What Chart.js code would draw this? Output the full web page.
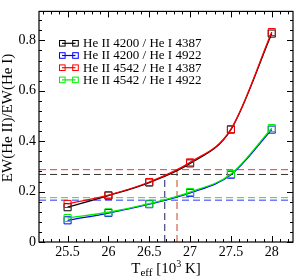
<!DOCTYPE html>
<html>
<head>
<meta charset="utf-8">
<script src="https://cdn.jsdelivr.net/npm/chart.js@4"></script>
<style>
  html, body { margin: 0; padding: 0; background: #fff; }
  canvas { display: block; }
</style>
</head>
<body>
<canvas id="chart" width="299" height="279"></canvas>
<script>
const temps = [25.5, 26, 26.5, 27, 27.5, 28];
const ratio4200_4387 = [0.138, 0.184, 0.236, 0.312, 0.446, 0.827];
const ratio4200_4922 = [0.086, 0.115, 0.150, 0.195, 0.267, 0.446];
const ratio4542_4387 = [0.151, 0.186, 0.238, 0.316, 0.448, 0.833];
const ratio4542_4922 = [0.095, 0.118, 0.152, 0.198, 0.270, 0.452];

const seriesLabels = ['He II 4200 / He I 4387', 'He II 4200 / He I 4922', 'He II 4542 / He I 4387', 'He II 4542 / He I 4922'];
const seriesColors = ['#000000', '#0000ff', '#ff0000', '#00ee00'];

// observed ratios (horizontal dashed) and derived temperatures (vertical dashed)
const observedRatios = [0.268, 0.166, 0.287, 0.176];
const dashColors = ['#333333', '#3333ff', '#ff3333', '#33dd33'];
const derivedTemps = [26.69, 26.84];
const derivedRatios = [0.268, 0.287];
const derivedColors = ['#1b1f5e', '#c8441e'];

const xTicks = [25.5, 26, 26.5, 27, 27.5, 28];
const yTicks = [0, 0.2, 0.4, 0.6, 0.8];
const xMin = 25.15, xMax = 28.26;
const yMin = 0, yMax = 0.915;

const serif = "'Liberation Serif', 'Times New Roman', serif";

const seriesData = [ratio4200_4387, ratio4200_4922, ratio4542_4387, ratio4542_4922];
const drawOrder = [4, 3, 2, 1];

const datasets = [];
seriesData.forEach((vals, i) => {
    datasets.push({
        label: seriesLabels[i],
        data: temps.map((t, k) => ({x: t, y: vals[k]})),
        borderColor: seriesColors[i],
        borderWidth: 1.3,
        pointStyle: 'rect',
        pointRadius: 5,
        pointBorderWidth: 1,
        pointBorderColor: seriesColors[i],
        pointBackgroundColor: 'rgba(0,0,0,0)',
        cubicInterpolationMode: 'monotone',
        order: drawOrder[i],
    });
});
observedRatios.forEach((r, i) => {
    datasets.push({
        data: [{x: xMin, y: r}, {x: xMax, y: r}],
        borderColor: dashColors[i],
        borderWidth: 1,
        borderDash: [7, 4],
        pointRadius: 0,
        order: 10,
    });
});
derivedTemps.forEach((t, i) => {
    datasets.push({
        data: [{x: t, y: 0}, {x: t, y: derivedRatios[i]}],
        borderColor: derivedColors[i],
        borderWidth: 1,
        borderDash: [7, 4],
        pointRadius: 0,
        order: 10,
    });
});

// frame with inward major/minor ticks on all four sides
const framePlugin = {
    id: 'frame',
    afterDraw(chart) {
        const {ctx, chartArea: a, scales: {x, y}} = chart;
        ctx.save();
        ctx.strokeStyle = '#000';
        ctx.lineWidth = 1.2;
        ctx.strokeRect(a.left, a.top, a.right - a.left, a.bottom - a.top);
        ctx.lineWidth = 1;
        ctx.beginPath();
        for (let i = 0; ; i++) {
            const v = 25.2 + i * 0.1;
            if (v > xMax) break;
            const px = Math.round(x.getPixelForValue(v)) + 0.5;
            const major = Math.abs(v * 2 - Math.round(v * 2)) < 1e-6;
            const len = major ? 6 : 3;
            ctx.moveTo(px, a.bottom); ctx.lineTo(px, a.bottom - len);
            ctx.moveTo(px, a.top); ctx.lineTo(px, a.top + len);
        }
        for (let i = 0; ; i++) {
            const v = i * 0.04;
            if (v > yMax) break;
            const py = Math.round(y.getPixelForValue(v)) + 0.5;
            const major = i % 5 === 0;
            const len = major ? 6 : 3;
            ctx.moveTo(a.left, py); ctx.lineTo(a.left + len, py);
            ctx.moveTo(a.right, py); ctx.lineTo(a.right - len, py);
        }
        ctx.stroke();

        // legend
        const rowY = [43.3, 55.5, 67.7, 79.9];
        ctx.font = '13px ' + serif;
        ctx.textBaseline = 'middle';
        ctx.textAlign = 'left';
        seriesLabels.forEach((lab, i) => {
            const yy = rowY[i];
            ctx.strokeStyle = seriesColors[i];
            ctx.lineWidth = 1.2;
            ctx.beginPath();
            ctx.moveTo(62, yy); ctx.lineTo(75.5, yy);
            ctx.stroke();
            ctx.lineWidth = 1;
            ctx.strokeRect(59.5, yy - 2.8, 5.6, 5.6);
            ctx.strokeRect(72.7, yy - 2.8, 5.6, 5.6);
            ctx.fillStyle = '#000';
            ctx.fillText(lab, 83, yy + 0.5);
        });

        // axis titles
        ctx.fillStyle = '#000';
        ctx.save();
        ctx.translate(8, 118);
        ctx.rotate(-Math.PI / 2);
        ctx.font = '15px ' + serif;
        ctx.textAlign = 'center';
        ctx.textBaseline = 'middle';
        ctx.fillText('EW(He II)/EW(He I)', 0, 0);
        ctx.restore();

        ctx.textAlign = 'left';
        ctx.textBaseline = 'alphabetic';
        const parts = [
            ['T', 15, 0],
            ['eff', 11, 3],
            [' [10', 15, 0],
            ['3', 10, -6],
            [' K]', 15, 0],
        ];
        let total = 0;
        parts.forEach(p => { ctx.font = p[1] + 'px ' + serif; total += ctx.measureText(p[0]).width; });
        let cx = (a.left + a.right) / 2 - total / 2;
        parts.forEach(p => {
            ctx.font = p[1] + 'px ' + serif;
            ctx.fillText(p[0], cx, 273 + p[2]);
            cx += ctx.measureText(p[0]).width;
        });
        ctx.restore();
    }
};

new Chart(document.getElementById('chart').getContext('2d'), {
    type: 'line',
    data: {datasets: datasets},
    options: {
        responsive: false,
        devicePixelRatio: 1,
        animation: false,
        layout: {padding: {top: 2, right: 2, left: 0, bottom: 0}},
        scales: {
            x: {
                type: 'linear',
                min: xMin,
                max: xMax,
                grid: {display: false, drawTicks: false},
                border: {display: false},
                afterBuildTicks: (s) => { s.ticks = xTicks.map(v => ({value: v})); },
                afterFit: (s) => { s.height = 37; },
                ticks: {
                    color: '#000',
                    font: {family: serif, size: 14},
                    padding: 2,
                    maxRotation: 0,
                    callback: (v) => String(v),
                },
            },
            y: {
                type: 'linear',
                min: yMin,
                max: yMax,
                grid: {display: false, drawTicks: false},
                border: {display: false},
                afterBuildTicks: (s) => { s.ticks = yTicks.map(v => ({value: v})); },
                afterFit: (s) => { s.width = 39; },
                ticks: {
                    color: '#000',
                    font: {family: serif, size: 14},
                    padding: 3,
                    callback: (v) => String(v),
                },
            },
        },
        plugins: {
            legend: {display: false},
            tooltip: {enabled: false},
        },
    },
    plugins: [framePlugin],
});
</script>
</body>
</html>
